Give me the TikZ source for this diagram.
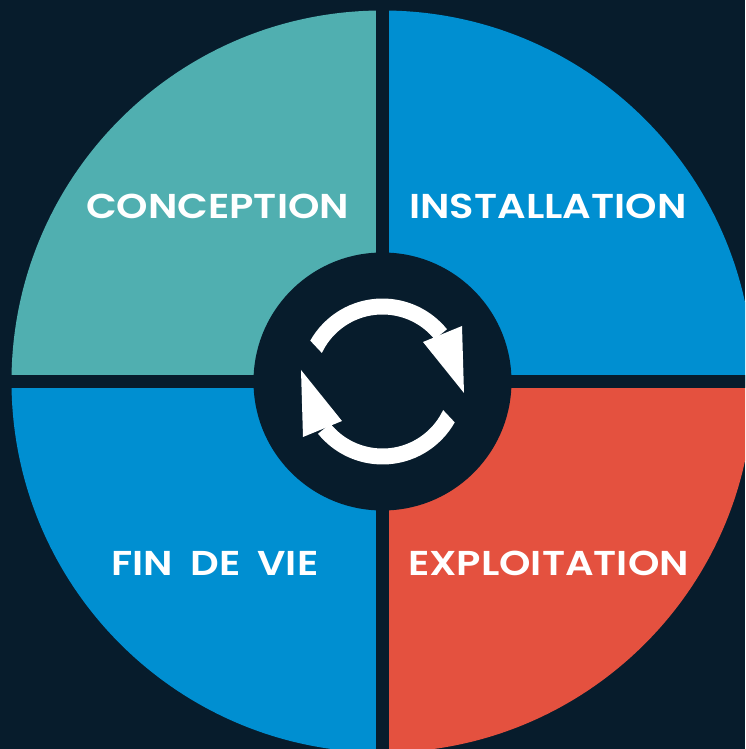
\documentclass[tikz,border=0pt]{standalone}
\usepackage{fontspec}
\setmainfont{Poppins}[BoldFont={Poppins SemiBold}, BoldFeatures={FakeStretch=1.16}, WordSpace=1.8]
\tikzset{
    phaselabel/.style={anchor=base, text=white, inner sep=0pt, font=\fontsize{34.5}{35}\selectfont\bfseries},
}

\begin{document}
\begin{tikzpicture}[x=1pt, y=1pt]
    % colors
    \definecolor{cyclenavy}{RGB}{7, 28, 44}
    \definecolor{cycleteal}{RGB}{80, 175, 176}
    \definecolor{cycleblue}{RGB}{0, 143, 209}
    \definecolor{cyclered}{RGB}{228, 81, 63}

    % background
    \fill[cyclenavy] (-382.5, -367.5) rectangle (362.5, 381.5);
    \useasboundingbox (-382.5, -367.5) rectangle (362.5, 381.5);
    \clip (-382.5, -367.5) rectangle (362.5, 381.5);

    % quarters
    \fill[cycleteal] (0, 0) -- (-371, 0) arc (180:90:371) -- cycle;
    \fill[cycleblue] (0, 0) -- (0, 371) arc (90:0:371) -- cycle;
    \fill[cyclered] (0, 0) -- (371, 0) arc (0:-90:371) -- cycle;
    \fill[cycleblue] (0, 0) -- (0, -371) arc (270:180:371) -- cycle;

    % gaps and hub
    \fill[cyclenavy] (-6.5, -380) rectangle (6.5, 380);
    \fill[cyclenavy] (-380, -6.2) rectangle (370, 6.2);
    \fill[cyclenavy] (0, 0) circle (129);

    % arrows
    \foreach \turn in {0, 180} {
        \begin{scope}[rotate=\turn]
            \fill[white] (150.5:83) arc (150.5:39:83) -- (39:67) arc (39:154.8:67) -- cycle;
            \fill[white] (81.5, -11.5) -- (79.5, 55.5) -- (40.5, 39.5) -- cycle;
        \end{scope}
    }

    % labels
    \node[phaselabel] (conception) at (-165, 162.5) {CONCEPTION};
    \node[phaselabel] (installation) at (165.5, 162.5) {INSTALLATION};
    \node[phaselabel] (findevie) at (-167.5, -194) {FIN DE VIE};
    \node[phaselabel] (exploitation) at (166, -194) {EXPLOITATION};
\end{tikzpicture}
\end{document}
